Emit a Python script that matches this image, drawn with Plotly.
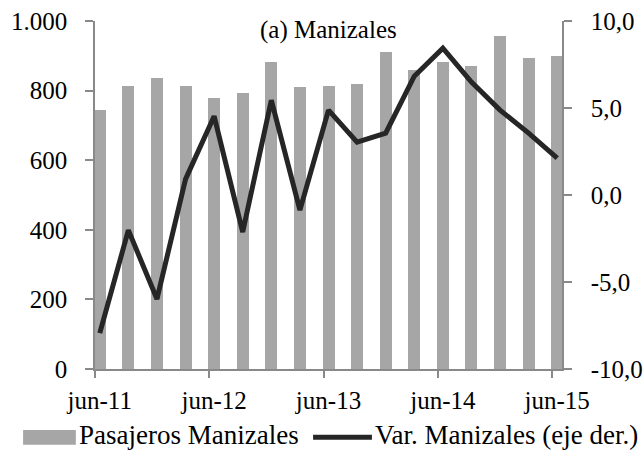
import plotly.graph_objects as go

# quarterly data, jun-11 .. jun-15 (x in months from jun-11)
months = [0, 3, 6, 9, 12, 15, 18, 21, 24, 27, 30, 33, 36, 39, 42, 45, 48]
pasajeros = [745, 813, 837, 813, 780, 792, 882, 809, 813, 820,
             911, 860, 882, 870, 957, 894, 900]
variacion = [-7.94, -2.02, -5.98, 0.91, 4.53, -2.13, 5.45, -0.87, 4.88, 3.04,
             3.56, 6.83, 8.44, 6.49, 4.88, 3.56, 2.12]

x_labels = ["jun-11", "jun-12", "jun-13", "jun-14", "jun-15"]
x_label_pos = [0, 12, 24, 36, 48]
y_left_vals = [0, 200, 400, 600, 800, 1000]
y_left_text = ["0", "200", "400", "600", "800", "1.000"]
y_right_vals = [-10, -5, 0, 5, 10]
y_right_text = ["-10,0", "-5,0", "0,0", "5,0", "10,0"]

FONT = "Liberation Serif"
AXIS = "#898989"
BAR = "#a6a6a6"
LINE = "#262626"

fig = go.Figure()

fig.add_trace(go.Bar(
    x=months, y=pasajeros, width=1.26, marker_color=BAR,
    marker_line_width=0, name="Pasajeros Manizales", showlegend=False,
))
fig.add_trace(go.Scatter(
    x=months, y=variacion, yaxis="y2", mode="lines",
    line=dict(color=LINE, width=5), name="Var. Manizales (eje der.)",
    showlegend=False,
))

tick_font = dict(family=FONT, size=25, color="#000000")

fig.update_layout(
    width=643, height=452,
    margin=dict(l=95, r=81, t=21, b=83, autoexpand=False),
    paper_bgcolor="white", plot_bgcolor="white",
    font=dict(family=FONT, size=25, color="#000000"),
    xaxis=dict(
        range=[-0.5, 48.5], showgrid=False, zeroline=False, automargin=False,
        showline=True, linecolor=AXIS, linewidth=1.5,
        tickvals=x_label_pos, ticktext=x_labels, ticks="",
        ticklabelstandoff=8, tickfont=tick_font,
        minor=dict(tickvals=[-0.5, 11.5, 23.5, 35.5, 47.5], ticks="outside",
                   ticklen=7, tickcolor=AXIS, tickwidth=1.5, showgrid=False),
    ),
    yaxis=dict(
        range=[0, 1000], showgrid=False, zeroline=False, automargin=False,
        showline=True, linecolor=AXIS, linewidth=1.5,
        tickvals=y_left_vals, ticktext=y_left_text,
        ticks="outside", ticklen=8, tickcolor=AXIS, tickwidth=1.5,
        ticklabelstandoff=13, tickfont=tick_font,
    ),
    yaxis2=dict(
        range=[-10, 10], overlaying="y", side="right", automargin=False,
        showgrid=False, zeroline=False,
        showline=True, linecolor=AXIS, linewidth=1.5,
        tickvals=y_right_vals, ticktext=y_right_text,
        ticks="outside", ticklen=8, tickcolor=AXIS, tickwidth=1.5,
        ticklabelstandoff=14, tickfont=tick_font,
    ),
    bargap=0,
)

# title inside the plot
fig.add_annotation(x=0.5, y=0.974, xref="paper", yref="paper",
                   text="(a) Manizales", showarrow=False,
                   xanchor="center", yanchor="middle",
                   font=dict(family=FONT, size=25))

# unit labels, cut off at the top edge as in the original
fig.add_annotation(x=-0.193, y=1.100, xref="paper", yref="paper",
                   text="(miles de pasajeros)", showarrow=False,
                   xanchor="left", yanchor="middle",
                   font=dict(family=FONT, size=25))
fig.add_annotation(x=0.912, y=1.100, xref="paper", yref="paper",
                   text="(porcentaje)", showarrow=False,
                   xanchor="left", yanchor="middle",
                   font=dict(family=FONT, size=25))

# legend drawn by hand to get the wide swatches
fig.add_shape(type="rect", xref="paper", yref="paper",
              x0=-0.154, x1=-0.041, y0=-0.218, y1=-0.175,
              fillcolor=BAR, line_width=0)
fig.add_annotation(x=-0.038, y=-0.190, xref="paper", yref="paper",
                   text="Pasajeros Manizales", showarrow=False,
                   xanchor="left", yanchor="middle",
                   font=dict(family=FONT, size=27))
fig.add_shape(type="line", xref="paper", yref="paper",
              x0=0.467, x1=0.593, y0=-0.196, y1=-0.196,
              line=dict(color=LINE, width=5))
fig.add_annotation(x=0.595, y=-0.190, xref="paper", yref="paper",
                   text="Var. Manizales (eje der.)", showarrow=False,
                   xanchor="left", yanchor="middle",
                   font=dict(family=FONT, size=27))

# the page's default body margin would push the figure 8px off the window
fig.write_html("out.html", config={"displayModeBar": False},
               post_script="document.body.style.margin='0';")
